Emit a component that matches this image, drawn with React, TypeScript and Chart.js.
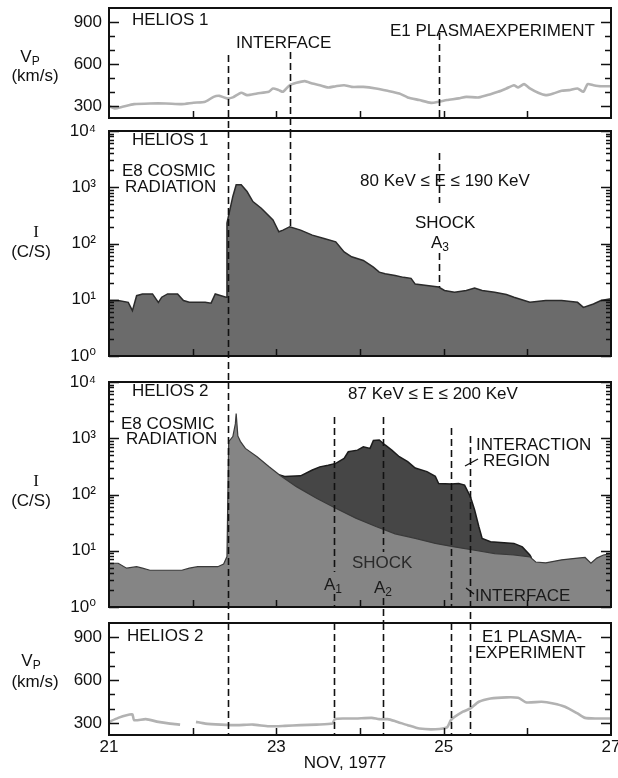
import React, { useEffect, useRef } from "react";
import { Chart, registerables } from "chart.js";

Chart.register(...registerables);

// ---------------- data ----------------
const DAY_MIN = 21;
const DAY_MAX = 27;
const X_TICK_LABELS = [21, 23, 25, 27];
const DAY_TICKS = [22, 23, 24, 25, 26];
const VEL_MIN = 215;
const VEL_MAX = 1000;
const VEL_TICKS = [300, 400, 500, 600, 700, 800, 900];
const VEL_LABELS = [300, 600, 900];
const LOG_DECADES = [1, 10, 100, 1000, 10000];
const X_TITLE = "NOV, 1977";

// Helios 1 plasma velocity (km/s)
const h1VelDays = [21.0, 21.07, 21.16, 21.3, 21.49, 21.68, 21.87, 22.01, 22.15, 22.25, 22.32, 22.41, 22.48, 22.58, 22.65, 22.77, 22.91, 22.96, 23.03, 23.08, 23.16, 23.24, 23.34, 23.43, 23.52, 23.62, 23.71, 23.81, 23.9, 24.04, 24.19, 24.33, 24.47, 24.57, 24.71, 24.85, 24.94, 25.04, 25.18, 25.27, 25.42, 25.56, 25.65, 25.75, 25.84, 25.89, 25.96, 26.03, 26.13, 26.22, 26.31, 26.41, 26.5, 26.6, 26.67, 26.72, 26.79, 26.88, 27.0];
const h1Vel = [300, 284, 295, 314, 319, 319, 314, 324, 331, 366, 373, 355, 362, 395, 378, 390, 402, 426, 414, 402, 449, 466, 478, 461, 449, 433, 442, 449, 437, 437, 426, 409, 390, 362, 343, 323, 331, 343, 355, 366, 362, 385, 402, 426, 449, 433, 457, 426, 395, 378, 390, 409, 414, 426, 402, 457, 449, 442, 442];

// Helios 1 E8 intensity 80-190 keV (C/S)
const h1IntDays = [21.0, 21.11, 21.23, 21.28, 21.33, 21.4, 21.52, 21.59, 21.63, 21.7, 21.82, 21.89, 21.96, 22.15, 22.22, 22.27, 22.34, 22.4, 22.41, 22.48, 22.52, 22.58, 22.65, 22.72, 22.82, 22.96, 23.03, 23.08, 23.16, 23.29, 23.43, 23.57, 23.71, 23.81, 23.9, 24.04, 24.16, 24.23, 24.3, 24.42, 24.52, 24.61, 24.66, 24.8, 24.94, 25.01, 25.13, 25.27, 25.37, 25.46, 25.61, 25.75, 25.84, 26.03, 26.22, 26.41, 26.6, 26.67, 26.79, 26.88, 27.0];
const h1Int = [9.7, 9.7, 9.0, 6.4, 11.8, 12.7, 12.7, 9.0, 11.1, 12.7, 12.7, 9.7, 9.0, 9.0, 8.7, 12.7, 11.8, 11.1, 230, 686, 1110, 1110, 840, 557, 424, 262, 162, 173, 199, 173, 141, 123, 107, 71, 58, 50, 38, 31, 29, 27, 25, 24, 19, 18, 16.8, 14.6, 13.6, 14.6, 16.1, 14.6, 13.6, 12.4, 11.1, 9.0, 9.7, 9.7, 9.0, 7.3, 8.4, 9.7, 10.4];

// Helios 2 E8 intensity 87-200 keV, background (lighter) profile
const h2LowDays = [21.0, 21.11, 21.21, 21.33, 21.4, 21.49, 21.68, 21.87, 21.96, 22.06, 22.3, 22.37, 22.41, 22.43, 22.48, 22.51, 22.52, 22.54, 22.57, 22.63, 22.77, 22.91, 23.05, 23.24, 23.48, 23.71, 23.95, 24.19, 24.42, 24.66, 24.9, 25.13, 25.37, 25.61, 25.84, 26.03, 26.1, 26.22, 26.41, 26.6, 26.69, 26.76, 26.83, 26.91, 27.0];
const h2Low = [6.0, 6.0, 4.9, 5.2, 4.9, 4.5, 4.5, 4.5, 4.9, 5.2, 5.2, 5.8, 7.9, 870, 1070, 1800, 2750, 1100, 880, 660, 470, 315, 215, 138, 86, 57, 38, 27, 20, 16.6, 13.5, 11.7, 10.2, 8.9, 8.4, 7.8, 6.3, 6.1, 6.9, 7.4, 7.6, 6.0, 7.4, 8.4, 8.9];

// Helios 2 E8 intensity, shock-associated (darker) profile
const h2HighDays = [23.03, 23.1, 23.29, 23.43, 23.52, 23.62, 23.71, 23.81, 23.86, 23.97, 24.04, 24.12, 24.16, 24.23, 24.3, 24.38, 24.47, 24.57, 24.66, 24.8, 24.9, 24.94, 25.09, 25.18, 25.25, 25.32, 25.37, 25.42, 25.46, 25.56, 25.84, 25.94, 26.03, 26.05];
const h2High = [225, 210, 215, 273, 310, 330, 357, 437, 575, 615, 705, 660, 910, 930, 760, 615, 470, 385, 295, 255, 210, 157, 153, 157, 147, 91, 53, 27, 16.6, 14.5, 13.5, 11.7, 8.4, 7.5];

// Helios 2 plasma velocity (km/s), null = data gap
const h2VelDays = [21.0, 21.11, 21.21, 21.28, 21.3, 21.44, 21.59, 21.73, 21.85, 21.95, 22.04, 22.15, 22.34, 22.53, 22.72, 22.91, 23.1, 23.29, 23.48, 23.67, 23.7, 23.81, 23.95, 24.14, 24.23, 24.33, 24.42, 24.57, 24.71, 24.9, 25.04, 25.09, 25.23, 25.32, 25.42, 25.56, 25.75, 25.89, 25.99, 26.17, 26.31, 26.45, 26.6, 26.69, 26.83, 27.0];
const h2Vel = [307, 335, 354, 359, 319, 326, 307, 295, 288, null, 307, 295, 288, 284, 288, 276, 279, 284, 288, 295, 326, 331, 331, 335, 326, 326, 312, 284, 260, 255, 268, 322, 378, 401, 448, 471, 479, 476, 443, 448, 436, 413, 366, 335, 331, 331];

const H1_EVENTS = [22.42, 23.16, 24.95];
const H2_EVENTS = [22.42, 23.69, 24.27, 25.09, 25.32];

// ---------------- styling / layout ----------------
const FONT = '"Liberation Sans", "DejaVu Sans", Arial, sans-serif';
const SERIF = '"Liberation Serif", "DejaVu Serif", serif';
const FS = 17;
const INK = "#111111";
const CANVAS_W = 630;
const AXIS_W = 109;
const PAD_RIGHT = 19;
const PAD_TOP = 26;
const SUP = ["\u2070", "\u00b9", "\u00b2", "\u00b3", "\u2074"];

type Part = { t: string; sub?: boolean };
type Txt = { parts: Part[]; x: number; y: number; align?: "left" | "center"; color?: string; family?: string };
type Seg = [number, number, number];

function pts(xs: number[], ys: (number | null)[]) {
  return xs.map((x, i) => ({ x, y: ys[i] }));
}
const T = (s: string, x: number, y: number, extra: Partial<Txt> = {}): Txt => ({ parts: [{ t: s }], x, y, ...extra });

const velLine = (xs: number[], ys: (number | null)[]) => ({
  data: pts(xs, ys),
  borderColor: "#b2b2b2",
  borderWidth: 2.6,
  pointRadius: 0,
  fill: false,
  tension: 0.2,
  spanGaps: false,
});

const PANELS = [
  {
    id: "h1v",
    canvasTop: 8 - PAD_TOP,
    height: 156,
    padTop: PAD_TOP,
    padBottom: 20,
    kind: "vel",
    showX: false,
    datasets: [velLine(h1VelDays, h1Vel)],
    events: H1_EVENTS,
    segs: [[0, 55, 131], [1, 52, 131], [2, 33, 118]] as Seg[],
    texts: [
      T("HELIOS 1", 132, 20),
      T("INTERFACE", 236, 43),
      T("E1 PLASMAEXPERIMENT", 390, 31),
      { parts: [{ t: "V" }, { t: "P", sub: true }], x: 30, y: 57, align: "center" },
      T("(km/s)", 35, 76, { align: "center" }),
    ] as Txt[],
    leaders: [] as number[][],
  },
  {
    id: "h1i",
    canvasTop: 131 - PAD_TOP,
    height: 277,
    padTop: PAD_TOP,
    padBottom: 26,
    kind: "log",
    showX: false,
    datasets: [
      {
        data: pts(h1IntDays, h1Int),
        borderColor: "#2b2b2b",
        borderWidth: 1.5,
        backgroundColor: "#6b6b6b",
        pointRadius: 0,
        fill: "start",
        tension: 0,
      },
    ],
    events: H1_EVENTS,
    segs: [[0, 131, 382], [1, 131, 226], [2, 153, 203], [2, 253, 287]] as Seg[],
    texts: [
      T("HELIOS 1", 132, 140),
      T("E8 COSMIC", 122, 171),
      T("RADIATION", 125, 187),
      T("80 KeV \u2264 E \u2264 190 KeV", 360, 181),
      T("SHOCK", 415, 223),
      { parts: [{ t: "A" }, { t: "3", sub: true }], x: 431, y: 243 },
      T("I", 36, 233, { align: "center", family: SERIF }),
      T("(C/S)", 31, 252, { align: "center" }),
    ] as Txt[],
    leaders: [] as number[][],
  },
  {
    id: "h2i",
    canvasTop: 382 - PAD_TOP,
    height: 277,
    padTop: PAD_TOP,
    padBottom: 26,
    kind: "log",
    showX: false,
    datasets: [
      {
        data: pts(h2LowDays, h2Low),
        borderColor: "#3a3a3a",
        borderWidth: 1.2,
        backgroundColor: "#858585",
        pointRadius: 0,
        fill: "start",
        tension: 0,
      },
      {
        data: pts(h2HighDays, h2High),
        borderColor: "#1c1c1c",
        borderWidth: 1.5,
        backgroundColor: "#464646",
        pointRadius: 0,
        fill: "start",
        tension: 0,
      },
    ],
    events: H2_EVENTS,
    segs: [[0, 382, 623], [1, 417, 572], [1, 594, 607], [2, 417, 552], [2, 598, 623], [3, 428, 607], [4, 436, 623]] as Seg[],
    texts: [
      T("HELIOS 2", 132, 391),
      T("87 KeV \u2264 E \u2264 200 KeV", 348, 394),
      T("E8 COSMIC", 121, 424),
      T("RADIATION", 126, 439),
      T("INTERACTION", 476, 445),
      T("REGION", 483, 461),
      T("SHOCK", 352, 563, { color: "#2a2a2a" }),
      { parts: [{ t: "A" }, { t: "1", sub: true }], x: 324, y: 585, color: "#1a1a1a" },
      { parts: [{ t: "A" }, { t: "2", sub: true }], x: 374, y: 588, color: "#1a1a1a" },
      T("INTERFACE", 475, 596, { color: "#1a1a1a" }),
      T("I", 36, 482, { align: "center", family: SERIF }),
      T("(C/S)", 31, 501, { align: "center" }),
    ] as Txt[],
    leaders: [[465, 466, 478, 459], [466, 588, 474, 594]],
  },
  {
    id: "h2v",
    canvasTop: 623 - PAD_TOP,
    height: 778 - (623 - PAD_TOP),
    padTop: PAD_TOP,
    padBottom: 0,
    kind: "vel",
    showX: true,
    datasets: [velLine(h2VelDays, h2Vel)],
    events: H2_EVENTS,
    segs: [[0, 623, 735], [1, 623, 735], [2, 623, 735], [3, 623, 735], [4, 623, 735]] as Seg[],
    texts: [
      T("HELIOS 2", 127, 636),
      T("E1 PLASMA-", 482, 637),
      T("EXPERIMENT", 475, 653),
      { parts: [{ t: "V" }, { t: "P", sub: true }], x: 31, y: 661, align: "center" },
      T("(km/s)", 35, 682, { align: "center" }),
      T(X_TITLE, 345, 763, { align: "center" }),
    ] as Txt[],
    leaders: [] as number[][],
  },
];

type PanelT = (typeof PANELS)[number];

function drawRich(ctx: CanvasRenderingContext2D, t: Txt) {
  const family = t.family || FONT;
  const items = t.parts.map((p) => {
    const fs = p.sub ? 12 : FS;
    ctx.font = `${fs}px ${family}`;
    return { ...p, fs, w: ctx.measureText(p.t).width };
  });
  const total = items.reduce((a, b) => a + b.w, 0);
  let cx = t.align === "center" ? t.x - total / 2 : t.x;
  ctx.textBaseline = "middle";
  ctx.textAlign = "left";
  ctx.fillStyle = t.color || INK;
  for (const it of items) {
    ctx.font = `${it.fs}px ${family}`;
    ctx.fillText(it.t, cx, t.y + (it.sub ? 5 : 0));
    cx += it.w;
  }
}

function logMarks() {
  const out: { v: number; major: boolean }[] = [];
  for (const d of [1, 10, 100, 1000]) {
    for (let m = 1; m <= 9; m++) out.push({ v: m * d, major: m === 1 });
  }
  out.push({ v: 10000, major: true });
  return out;
}

function decorPlugin(p: PanelT) {
  return {
    id: "decor_" + p.id,
    afterDraw(chart: any) {
      const ctx: CanvasRenderingContext2D = chart.ctx;
      const { left, right, top, bottom } = chart.chartArea;
      const xs = chart.scales.x;
      const ys = chart.scales.y;
      const off = p.canvasTop;
      ctx.save();

      // event (dashed) lines
      ctx.strokeStyle = INK;
      ctx.lineWidth = 1.6;
      ctx.setLineDash([7, 4]);
      for (const [ei, y0, y1] of p.segs) {
        const x = Math.round(xs.getPixelForValue(p.events[ei])) + 0.5;
        ctx.beginPath();
        ctx.moveTo(x, y0 - off);
        ctx.lineTo(x, y1 - off);
        ctx.stroke();
      }
      ctx.setLineDash([]);

      // frame
      ctx.lineWidth = 2;
      ctx.strokeRect(left, top, right - left, bottom - top);

      // inner ticks
      ctx.lineWidth = 1.5;
      const marks = p.kind === "log" ? logMarks() : VEL_TICKS.map((v) => ({ v, major: VEL_LABELS.includes(v) }));
      ctx.beginPath();
      for (const m of marks) {
        const y = Math.round(ys.getPixelForValue(m.v)) + 0.5;
        const len = m.major ? 10 : p.kind === "log" ? 5 : 6;
        ctx.moveTo(left, y);
        ctx.lineTo(left + len, y);
        ctx.moveTo(right, y);
        ctx.lineTo(right - len, y);
      }
      for (const d of DAY_TICKS) {
        const x = Math.round(xs.getPixelForValue(d)) + 0.5;
        ctx.moveTo(x, bottom);
        ctx.lineTo(x, bottom - 7);
      }
      ctx.stroke();

      // leader strokes
      ctx.lineWidth = 1.3;
      for (const [x0, y0, x1, y1] of p.leaders) {
        ctx.beginPath();
        ctx.moveTo(x0, y0 - off);
        ctx.lineTo(x1, y1 - off);
        ctx.stroke();
      }

      // texts
      for (const t of p.texts) drawRich(ctx, { ...t, y: t.y - off });
      ctx.restore();
    },
  };
}

function buildConfig(p: PanelT): any {
  const isLog = p.kind === "log";
  const tickFont = { family: FONT, size: FS };
  const yScale: any = isLog
    ? {
        type: "logarithmic",
        min: LOG_DECADES[0],
        max: LOG_DECADES[LOG_DECADES.length - 1],
        afterBuildTicks: (s: any) => {
          s.ticks = LOG_DECADES.map((v) => ({ value: v }));
        },
        ticks: {
          callback: (v: number) => "10" + SUP[Math.round(Math.log10(v))],
          font: tickFont,
          color: INK,
          padding: 13,
          autoSkip: false,
        },
      }
    : {
        type: "linear",
        min: VEL_MIN,
        max: VEL_MAX,
        afterBuildTicks: (s: any) => {
          s.ticks = VEL_LABELS.map((v) => ({ value: v }));
        },
        ticks: { font: tickFont, color: INK, padding: 7, autoSkip: false },
      };
  Object.assign(yScale, {
    position: "left",
    grid: { display: false, drawTicks: false },
    border: { display: false },
    afterFit: (s: any) => {
      s.width = AXIS_W;
    },
  });

  const xScale: any = {
    type: "linear",
    min: DAY_MIN,
    max: DAY_MAX,
    display: p.showX,
    position: "bottom",
    grid: { display: false, drawTicks: false },
    border: { display: false },
    afterBuildTicks: (s: any) => {
      s.ticks = X_TICK_LABELS.map((v) => ({ value: v }));
    },
    ticks: { font: tickFont, color: INK, padding: 2, maxRotation: 0, autoSkip: false },
  };
  if (p.showX) {
    xScale.afterFit = (s: any) => {
      s.height = 43;
    };
  }

  return {
    type: "line",
    data: { datasets: p.datasets },
    options: {
      responsive: false,
      maintainAspectRatio: false,
      animation: false,
      devicePixelRatio: 1,
      layout: { padding: { left: 0, right: PAD_RIGHT, top: p.padTop, bottom: p.padBottom } },
      plugins: { legend: { display: false }, tooltip: { enabled: false } },
      events: [],
      scales: { x: xScale, y: yScale },
    },
    plugins: [decorPlugin(p)],
  };
}

export default function App() {
  const refs = useRef<(HTMLCanvasElement | null)[]>([]);
  useEffect(() => {
    const charts = PANELS.map((p, i) => new Chart(refs.current[i] as HTMLCanvasElement, buildConfig(p)));
    return () => charts.forEach((c) => c.destroy());
  }, []);
  return (
    <div
      style={{
        position: "absolute",
        left: 0,
        top: 0,
        width: 618,
        height: 778,
        overflow: "hidden",
        background: "#ffffff",
      }}
    >
      {PANELS.map((p, i) => (
        <canvas
          key={p.id}
          ref={(el) => {
            refs.current[i] = el;
          }}
          width={CANVAS_W}
          height={p.height}
          style={{ position: "absolute", left: 0, top: p.canvasTop, width: CANVAS_W, height: p.height }}
        />
      ))}
    </div>
  );
}
